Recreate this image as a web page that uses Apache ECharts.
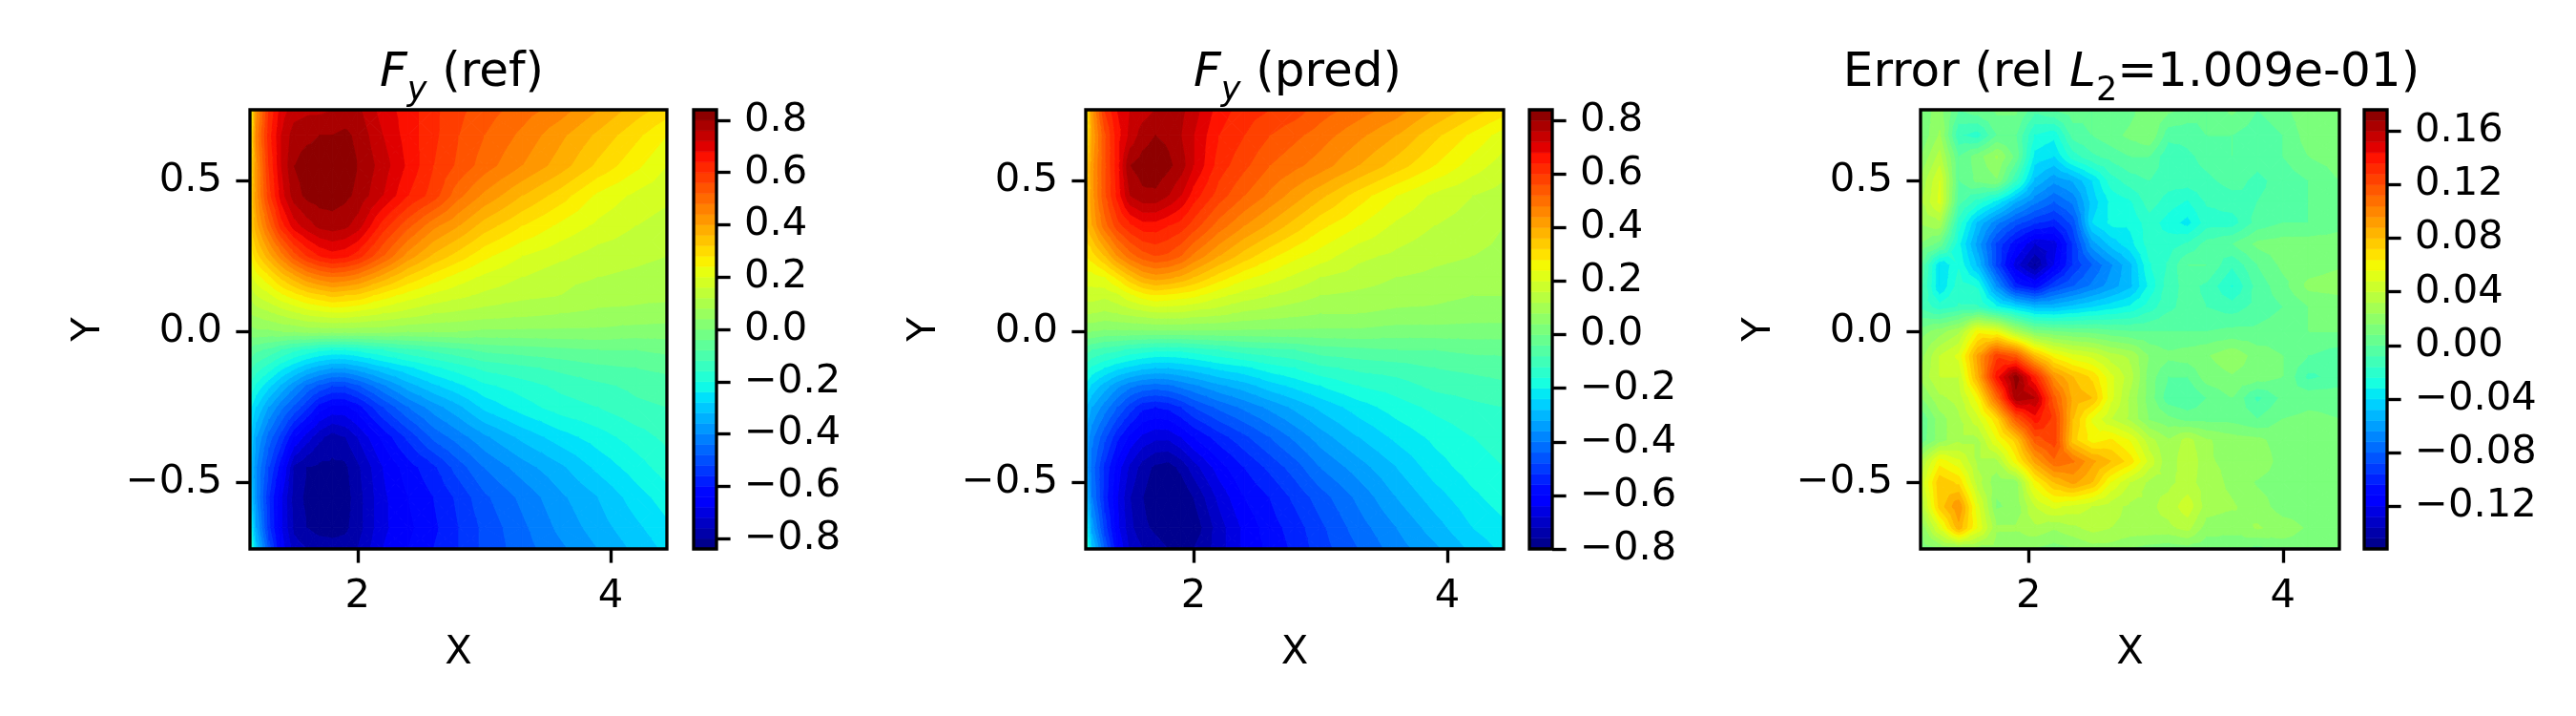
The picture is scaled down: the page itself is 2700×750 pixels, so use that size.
<!DOCTYPE html>
<html><head><meta charset="utf-8">
<style>html,body{margin:0;padding:0;background:#fff}#c{width:2700px;height:750px}</style>
<script src="https://cdn.jsdelivr.net/npm/echarts@6/dist/echarts.min.js"></script>
</head><body><div id="c"></div>
<script>
// Values
const xNodes = [1.15,1.2,1.3,1.4,1.5,1.6,1.7,1.8,1.9,2.0,2.2,2.4,2.6,2.8,3.0,3.3,3.6,3.9,4.2,4.444];
const yNodes = [0.735,0.65,0.55,0.45,0.35,0.25,0.18,0.12,0.06,0,-0.06,-0.12,-0.18,-0.25,-0.35,-0.45,-0.55,-0.65,-0.72];
const refValues = [
[.20,.42,.60,.70,.74,.75,.75,.76,.77,.77,.70,.66,.61,.57,.54,.50,.46,.40,.34,.30],
[.22,.45,.62,.72,.78,.79,.80,.80,.81,.79,.72,.66,.61,.56,.52,.47,.41,.35,.29,.24],
[.26,.42,.60,.72,.80,.82,.82,.83,.82,.80,.74,.67,.60,.55,.50,.44,.38,.31,.25,.20],
[.28,.42,.58,.70,.78,.81,.82,.82,.81,.79,.72,.64,.58,.49,.43,.36,.30,.23,.19,.17],
[.30,.38,.50,.62,.70,.74,.77,.78,.77,.74,.62,.53,.45,.40,.34,.28,.23,.19,.16,.14],
[.24,.30,.38,.46,.54,.60,.64,.66,.65,.62,.52,.42,.35,.30,.25,.20,.17,.14,.13,.12],
[.18,.22,.27,.33,.38,.43,.46,.48,.47,.45,.38,.31,.26,.22,.19,.16,.13,.12,.11,.10],
[.13,.16,.19,.23,.26,.29,.31,.33,.32,.31,.26,.22,.19,.17,.15,.13,.12,.10,.09,.09],
[.08,.09,.11,.13,.15,.17,.18,.19,.19,.18,.16,.14,.12,.11,.10,.09,.08,.07,.07,.06],
[.02,.03,.03,.04,.04,.05,.05,.05,.05,.05,.05,.04,.04,.04,.03,.03,.03,.03,.02,.02],
[-.05,-.07,-.09,-.12,-.15,-.17,-.19,-.20,-.20,-.19,-.16,-.13,-.11,-.09,-.07,-.06,-.05,-.04,-.04,-.03],
[-.11,-.14,-.18,-.23,-.27,-.31,-.34,-.36,-.36,-.34,-.29,-.25,-.21,-.18,-.15,-.13,-.11,-.09,-.08,-.07],
[-.17,-.21,-.27,-.33,-.39,-.45,-.49,-.52,-.52,-.49,-.41,-.34,-.29,-.25,-.21,-.18,-.15,-.13,-.11,-.10],
[-.23,-.28,-.36,-.43,-.49,-.55,-.62,-.65,-.65,-.62,-.52,-.44,-.38,-.33,-.27,-.22,-.18,-.16,-.13,-.12],
[-.28,-.36,-.46,-.54,-.64,-.70,-.75,-.78,-.76,-.72,-.63,-.55,-.47,-.42,-.37,-.31,-.26,-.22,-.18,-.15],
[-.30,-.40,-.52,-.63,-.77,-.80,-.81,-.81,-.81,-.77,-.68,-.62,-.57,-.50,-.44,-.38,-.33,-.27,-.22,-.18],
[-.28,-.40,-.56,-.68,-.78,-.81,-.82,-.83,-.82,-.78,-.69,-.64,-.60,-.55,-.49,-.43,-.37,-.32,-.26,-.22],
[-.20,-.36,-.55,-.68,-.77,-.80,-.82,-.82,-.81,-.78,-.69,-.65,-.61,-.56,-.51,-.45,-.39,-.34,-.29,-.25],
[-.15,-.30,-.50,-.66,-.74,-.76,-.77,-.78,-.78,-.76,-.68,-.64,-.60,-.56,-.51,-.46,-.41,-.36,-.31,-.27]
];
const predValues = [
[.24,.42,.60,.68,.72,.74,.76,.77,.77,.74,.66,.62,.60,.58,.54,.50,.46,.40,.34,.30],
[.26,.40,.55,.66,.73,.78,.80,.79,.76,.72,.64,.60,.56,.53,.50,.45,.40,.33,.27,.22],
[.32,.42,.55,.66,.80,.82,.83,.81,.78,.72,.62,.57,.52,.49,.46,.40,.34,.28,.22,.18],
[.34,.42,.55,.65,.76,.79,.79,.76,.72,.66,.58,.52,.47,.42,.37,.30,.24,.19,.16,.14],
[.34,.40,.50,.58,.63,.66,.66,.64,.62,.58,.50,.44,.39,.34,.29,.24,.19,.16,.14,.12],
[.28,.30,.36,.44,.50,.54,.56,.55,.52,.47,.40,.34,.29,.25,.22,.17,.15,.13,.12,.11],
[.22,.22,.24,.29,.35,.40,.42,.41,.39,.36,.30,.25,.22,.19,.16,.14,.12,.11,.10,.09],
[.18,.18,.17,.19,.23,.26,.28,.27,.26,.25,.21,.18,.16,.14,.12,.11,.10,.09,.08,.08],
[.12,.12,.11,.12,.13,.14,.15,.15,.15,.14,.13,.11,.10,.09,.08,.08,.07,.07,.06,.06],
[.04,.04,.03,.03,.03,.03,.03,.03,.03,.03,.03,.03,.03,.03,.03,.03,.02,.02,.02,.02],
[-.06,-.08,-.10,-.11,-.13,-.14,-.15,-.15,-.15,-.14,-.12,-.10,-.09,-.08,-.06,-.05,-.04,-.04,-.03,-.03],
[-.14,-.17,-.20,-.23,-.25,-.27,-.28,-.28,-.27,-.26,-.23,-.21,-.18,-.16,-.13,-.11,-.10,-.08,-.07,-.06],
[-.21,-.25,-.30,-.35,-.39,-.41,-.42,-.41,-.39,-.37,-.33,-.30,-.26,-.23,-.20,-.16,-.14,-.11,-.10,-.09],
[-.28,-.32,-.38,-.44,-.50,-.55,-.56,-.55,-.52,-.48,-.43,-.39,-.35,-.31,-.27,-.22,-.18,-.15,-.13,-.12],
[-.33,-.39,-.47,-.55,-.61,-.65,-.67,-.67,-.64,-.60,-.54,-.49,-.44,-.39,-.34,-.28,-.23,-.19,-.16,-.14],
[-.33,-.42,-.53,-.62,-.69,-.74,-.77,-.78,-.75,-.70,-.62,-.56,-.51,-.46,-.40,-.34,-.28,-.22,-.18,-.16],
[-.28,-.40,-.54,-.64,-.72,-.76,-.79,-.80,-.80,-.76,-.67,-.60,-.56,-.51,-.46,-.39,-.32,-.26,-.21,-.18],
[-.18,-.34,-.50,-.63,-.71,-.75,-.77,-.79,-.80,-.79,-.70,-.63,-.58,-.54,-.49,-.42,-.36,-.30,-.24,-.21],
[-.12,-.27,-.45,-.60,-.69,-.72,-.74,-.76,-.77,-.76,-.70,-.63,-.59,-.55,-.50,-.44,-.38,-.33,-.27,-.23]
];
const errXNodes = [1.15,1.3,1.45,1.6,1.75,1.9,2.05,2.2,2.35,2.5,2.65,2.8,2.95,3.1,3.25,3.4,3.6,3.8,4.0,4.2,4.444];
const errYNodes = [0.735,0.65,0.58,0.5,0.43,0.36,0.29,0.22,0.15,0.08,0,-0.08,-0.15,-0.22,-0.29,-0.36,-0.43,-0.5,-0.58,-0.65,-0.72];
const errValues = [
[.01,.02,.00,.005,.01,.01,-.005,.00,.005,.00,.00,.005,.015,.01,.005,.00,.01,.00,.005,.015,.015],
[.008,.025,-.015,-.02,.00,.00,-.025,-.03,-.005,.00,.005,.01,.015,-.005,-.005,.00,.00,-.005,.00,.012,.012],
[.015,.035,.00,.012,.025,.005,-.035,-.04,-.02,-.01,-.005,.00,.00,-.015,-.01,-.005,.00,-.005,.00,.008,.012],
[.025,.048,.00,.01,.015,-.015,-.05,-.062,-.055,-.04,-.02,-.012,-.008,-.012,-.012,-.01,-.005,-.01,-.005,.00,.008],
[.03,.05,-.005,-.02,-.035,-.055,-.07,-.08,-.07,-.045,-.03,-.025,-.012,-.02,-.025,-.015,-.012,-.008,-.005,.00,.005],
[.025,.03,-.02,-.05,-.07,-.085,-.095,-.10,-.085,-.04,-.03,-.03,-.02,-.028,-.035,-.02,-.02,-.005,.00,.00,.005],
[.015,.005,-.03,-.06,-.09,-.11,-.128,-.125,-.095,-.06,-.045,-.035,-.02,-.02,-.015,-.005,.00,.01,.012,.012,.012],
[.00,-.04,-.025,-.05,-.09,-.125,-.145,-.12,-.095,-.08,-.065,-.05,-.025,-.015,.00,.00,-.015,.00,.01,.012,.015],
[-.005,-.04,-.02,-.025,-.065,-.10,-.11,-.09,-.08,-.07,-.06,-.05,-.03,-.012,-.005,-.01,-.025,-.005,.005,.018,.02],
[-.01,-.02,-.015,-.015,-.03,-.04,-.05,-.05,-.045,-.04,-.035,-.03,-.02,-.01,-.005,-.008,-.012,-.005,.00,.008,.01],
[.012,.02,.03,.06,.055,.03,.012,.008,.006,.005,.002,.00,.00,.00,.00,.00,.002,.002,.005,.008,.008],
[.02,.04,.05,.09,.125,.115,.08,.06,.05,.045,.035,.03,.015,.01,.012,.015,.022,.012,.008,.00,-.005],
[.025,.04,.04,.085,.14,.172,.135,.095,.08,.07,.05,.035,.012,.00,.00,.012,.015,.012,.008,-.01,-.005],
[.015,.03,.035,.06,.11,.165,.16,.115,.085,.08,.05,.03,.012,-.005,-.008,.00,.008,-.01,.002,.005,.005],
[.00,.02,.03,.045,.07,.115,.14,.125,.08,.055,.04,.03,.015,.01,.005,.005,.005,.00,.008,.01,.008],
[.002,.02,.03,.03,.055,.075,.115,.125,.075,.06,.065,.055,.035,.025,.035,.025,.02,.018,.012,.01,.008],
[.03,.06,.05,.03,.03,.06,.09,.11,.105,.09,.08,.068,.045,.025,.04,.025,.022,.022,.012,.012,.008],
[.04,.078,.07,.035,.018,.02,.06,.08,.09,.08,.055,.04,.03,.03,.035,.028,.022,.015,.012,.015,.01],
[.03,.075,.095,.05,.015,.018,.04,.05,.045,.04,.035,.03,.03,.035,.045,.028,.025,.02,.012,.012,.008],
[.015,.05,.085,.055,.025,.025,.03,.025,.03,.035,.032,.03,.03,.03,.035,.02,.018,.025,.02,.015,.008],
[.01,.015,.02,.02,.02,.018,.015,.012,.015,.02,.02,.015,.012,.01,.012,.01,.012,.005,.012,.012,.008]
];
const xTicks = [2,4];
const yTicks = [-0.5,0,0.5];
const refCbarTicks = [-0.8,-0.6,-0.4,-0.2,0,0.2,0.4,0.6,0.8];
const predCbarTicks = [-0.8,-0.6,-0.4,-0.2,0,0.2,0.4,0.6,0.8];
const errCbarTicks = [-0.12,-0.08,-0.04,0,0.04,0.08,0.12,0.16];

const FONT='"DejaVu Sans"', PX=41.67, LW=3.33;
function seg(t,pts){for(let i=1;i<pts.length;i++){if(t<=pts[i][0]){const a=pts[i-1],b=pts[i];return a[1]+(b[1]-a[1])*(t-a[0])/(b[0]-a[0]);}}return pts[pts.length-1][1];}
function jet(t){t=Math.max(0,Math.min(1,t));
 const r=seg(t,[[0,0],[.35,0],[.66,1],[.89,1],[1,.5]]),g=seg(t,[[0,0],[.125,0],[.375,1],[.64,1],[.91,0],[1,0]]),b=seg(t,[[0,.5],[.11,1],[.34,1],[.65,0],[1,0]]);
 return 'rgb('+Math.round(r*255)+','+Math.round(g*255)+','+Math.round(b*255)+')';}
function makeLevels(lo,step,n){const a=[];for(let i=0;i<=n;i++)a.push(+(lo+i*step).toFixed(4));return a;}

function clip(poly,lim,above){ // clip polygon [px,py,v] to v>=lim or v<=lim
 const out=[];for(let i=0;i<poly.length;i++){const p=poly[i],q=poly[(i+1)%poly.length];
  const pi=above?p[2]>=lim:p[2]<=lim,qi=above?q[2]>=lim:q[2]<=lim;
  if(pi)out.push(p);
  if(pi!==qi){const s=(lim-p[2])/(q[2]-p[2]);out.push([p[0]+(q[0]-p[0])*s,p[1]+(q[1]-p[1])*s,lim]);}
 }return out;}

function contourSeries(xs,ys,vals,levels,xi,yi){
 const data=[];ys.forEach((y,j)=>xs.forEach((x,i)=>data.push([x,y,vals[j][i],i,j])));
 const lo=levels[0],hi=levels[levels.length-1];
 return {type:'custom',coordinateSystem:'cartesian2d',xAxisIndex:xi,yAxisIndex:yi,data,clip:true,silent:true,animation:false,
  encode:{x:0,y:1},
  renderItem(params,api){
   const i=api.value(3),j=api.value(4);
   if(i>=xs.length-1||j>=ys.length-1)return {type:'group',children:[]};
   const P=(a,b)=>{const c=api.coord([xs[a],ys[b]]);return [c[0],c[1],vals[b][a]];};
   const A=P(i,j),B=P(i+1,j),C=P(i+1,j+1),D=P(i,j+1);
   const M=[(A[0]+C[0])/2,(A[1]+C[1])/2,(A[2]+B[2]+C[2]+D[2])/4];
   const children=[];
   [[A,B,M],[B,C,M],[C,D,M],[D,A,M]].forEach(tri=>{
    const mn=Math.min(tri[0][2],tri[1][2],tri[2][2]),mx=Math.max(tri[0][2],tri[1][2],tri[2][2]);
    for(let k=0;k<levels.length-1;k++){
     if(levels[k+1]<mn||levels[k]>mx)continue;
     let poly=clip(tri,levels[k],true);if(poly.length>2)poly=clip(poly,levels[k+1],false);
     if(poly.length<3)continue;
     const col=jet(((levels[k]+levels[k+1])/2-lo)/(hi-lo));
     children.push({type:'polygon',shape:{points:poly.map(p=>[p[0],p[1]])},style:{fill:col,stroke:col,lineWidth:1},silent:true});
    }
   });
   return {type:'group',children};
  }};
}
function cbarSeries(levels,xi,yi){
 const lo=levels[0],hi=levels[levels.length-1];
 const data=levels.slice(0,-1).map((l,k)=>[0,l,levels[k+1]]);
 return {type:'custom',coordinateSystem:'cartesian2d',xAxisIndex:xi,yAxisIndex:yi,data,silent:true,animation:false,encode:{y:1},
  renderItem(params,api){
   const a=api.coord([0,api.value(1)]),b=api.coord([1,api.value(2)]);
   const col=jet(((api.value(1)+api.value(2))/2-lo)/(hi-lo));
   return {type:'rect',shape:{x:a[0],y:b[1],width:b[0]-a[0],height:a[1]-b[1]},style:{fill:col,stroke:col,lineWidth:.6}};
  }};
}
const minus=s=>String(s).replace('-','\u2212');
const layouts=[
 {l:262,r:699,cl:727,cr:751,levels:makeLevels(-0.84,0.04,42),ticks:refCbarTicks,dec:1,xs:xNodes,ys:yNodes,vals:refValues,xmax:4.444},
 {l:1138,r:1576,cl:1603,cr:1627,levels:makeLevels(-0.8,0.04,41),ticks:predCbarTicks,dec:1,xs:xNodes,ys:yNodes,vals:predValues,xmax:4.444},
 {l:2013,r:2452,cl:2478,cr:2502,levels:makeLevels(-0.152,0.008,41),ticks:errCbarTicks,dec:2,xs:errXNodes,ys:errYNodes,vals:errValues,xmax:4.444}
];
const T=115,B=575;
const grid=[],xAxis=[],yAxis=[],series=[];
const frame={show:true,backgroundColor:'transparent',borderColor:'#000',borderWidth:LW,z:5};
const tickS={show:true,length:14.6,lineStyle:{color:'#000',width:LW}};
const labS={color:'#000',fontFamily:FONT,fontSize:PX,margin:29};
layouts.forEach((p,n)=>{
 const g=grid.length;
 grid.push({...frame,left:p.l,width:p.r-p.l,top:T,height:B-T});
 xAxis.push({gridIndex:g,type:'value',min:1.15,max:p.xmax,position:'bottom',z:6,axisLine:{show:false,onZero:false},splitLine:{show:false},
  axisTick:{...tickS,customValues:xTicks},axisLabel:{...labS,customValues:xTicks,hideOverlap:false,showMinLabel:true,showMaxLabel:true},
  name:'X',nameLocation:'middle',nameGap:88,nameTextStyle:{color:'#000',fontFamily:FONT,fontSize:PX}});
 yAxis.push({gridIndex:g,type:'value',min:-0.72,max:0.735,position:'left',z:6,axisLine:{show:false,onZero:false},splitLine:{show:false},
  axisTick:{...tickS,customValues:yTicks},axisLabel:{...labS,padding:[6,0,0,0],customValues:yTicks,formatter:v=>minus(Number(v).toFixed(1))},
  name:'Y',nameLocation:'middle',nameGap:148,nameTextStyle:{color:'#000',fontFamily:FONT,fontSize:PX}});
 series.push(contourSeries(p.xs,p.ys,p.vals,p.levels,g,g));
 const h=grid.length;
 grid.push({...frame,left:p.cl,width:p.cr-p.cl,top:T,height:B-T});
 xAxis.push({gridIndex:h,type:'value',min:0,max:1,show:false});
 yAxis.push({gridIndex:h,type:'value',min:p.levels[0],max:p.levels[p.levels.length-1],position:'right',z:6,axisLine:{show:false,onZero:false},splitLine:{show:false},
  axisTick:{...tickS,customValues:p.ticks},axisLabel:{...labS,padding:[10,0,0,0],customValues:p.ticks,formatter:v=>minus(Number(v).toFixed(p.dec))}});
 series.push(cbarSeries(p.levels,h,h));
});
const tN={color:'#000',fontFamily:FONT,fontWeight:'normal',fontSize:50,lineHeight:50,verticalAlign:'top'};
const rich={n:tN,i:{...tN,fontStyle:'italic'},
 s:{color:'#000',fontFamily:FONT,fontWeight:'normal',fontStyle:'italic',fontSize:35,lineHeight:35,verticalAlign:'top',padding:[26,0,0,0]},
 d:{color:'#000',fontFamily:FONT,fontWeight:'normal',fontSize:35,lineHeight:35,verticalAlign:'top',padding:[26,0,0,0]}};
const title=[
 {text:'{i|F}{s|y}{n| (ref)}',left:479,top:47,textAlign:'center',textStyle:{rich,fontWeight:'normal'}},
 {text:'{i|F}{s|y}{n| (pred)}',left:1355,top:47,textAlign:'center',textStyle:{rich,fontWeight:'normal'}},
 {text:'{n|Error (rel }{i|L}{d|2}{n|=1.009e-01)}',left:2229,top:47,textAlign:'center',textStyle:{rich,fontWeight:'normal'}}
];
const chart=echarts.init(document.getElementById('c'),null,{renderer:'canvas'});
chart.setOption({animation:false,backgroundColor:'#fff',title,grid,xAxis,yAxis,series});
</script></body></html>
